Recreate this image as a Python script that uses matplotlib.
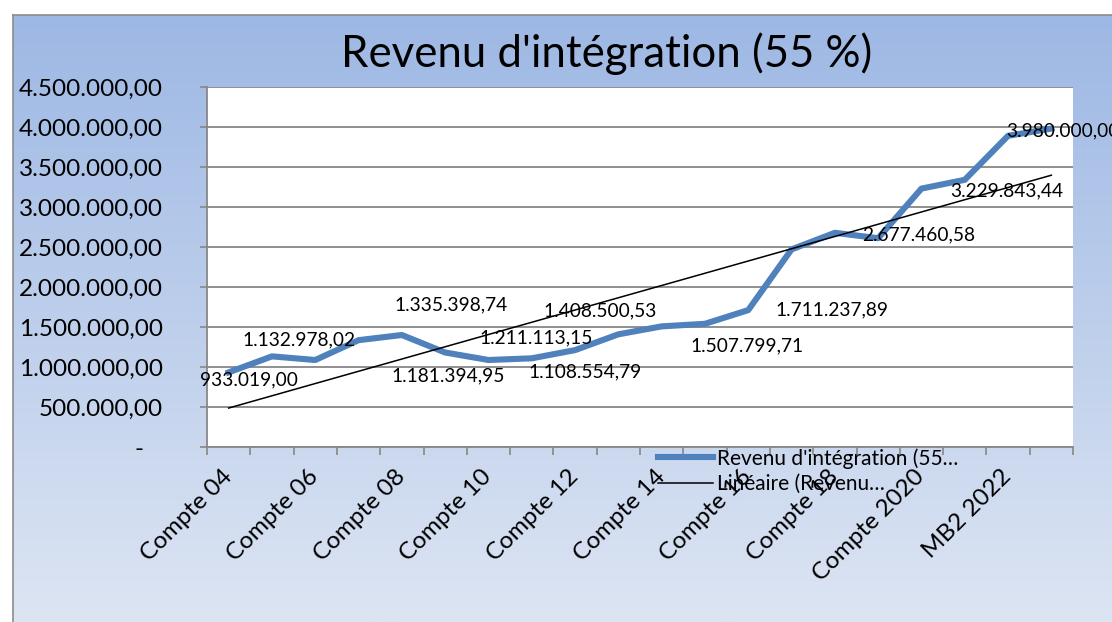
import numpy as np
import matplotlib
matplotlib.use("Agg")
import matplotlib.pyplot as plt
from matplotlib.colors import LinearSegmentedColormap

# ---------------- data ----------------
categories = ["Compte 04", "Compte 05", "Compte 06", "Compte 07", "Compte 08",
              "Compte 09", "Compte 10", "Compte 11", "Compte 12", "Compte 13",
              "Compte 14", "Compte 15", "Compte 16", "Compte 17", "Compte 18",
              "Compte 19", "Compte 2020", "Compte 2021", "MB2 2022", "MB2 2023"]
values = [933019.00, 1132978.02, 1087500, 1335398.74, 1400000,
          1181394.95, 1087500, 1108554.79, 1211113.15, 1408500.53,
          1507799.71, 1540000, 1711237.89, 2470000, 2677460.58,
          2610000, 3229843.44, 3340000, 3890000, 3980000.00]
labelled_points = [0, 1, 3, 5, 8, 7, 9, 10, 12, 14, 16, 19]
title = "Revenu d'intégration (55 %)"
legend_labels = ["Revenu d'intégration (55…", "Linéaire (Revenu…"]
y_ticks = [0, 500000, 1000000, 1500000, 2000000, 2500000, 3000000,
           3500000, 4000000, 4500000]

# label offsets in pixels (dx right, dy down) -- layout only
label_offsets = [(20, 8), (27, -16), (93, -35), (3, 23), (-39, -12), (53, 14),
                 (-18, -23), (85, 19), (84, 0), (84, 2), (85, 2), (12, 2)]

FONT = ["Lato", "DejaVu Sans"]
plt.rcParams['font.family'] = FONT

W, H = 1112, 622
fig = plt.figure(figsize=(W / 100, H / 100), dpi=100)
fig.patch.set_facecolor("white")


def fx(px):
    return px / W


def fy(py):
    return 1 - py / H


# background gradient of chart area
bg = fig.add_axes([fx(13), 0, 1 - fx(13), fy(15)])
cmap = LinearSegmentedColormap.from_list("g", ["#9db8e4", "#dde5f3"])
grad = np.linspace(0, 1, 256).reshape(-1, 1)
bg.imshow(grad, aspect="auto", cmap=cmap, extent=[0, 1, 0, 1])
bg.set_xticks([])
bg.set_yticks([])
for s in ["right", "bottom"]:
    bg.spines[s].set_visible(False)
for s in ["left", "top"]:
    bg.spines[s].set_color("#8c8c8c")
    bg.spines[s].set_linewidth(1.2)
bg.set_zorder(0)

# title
fig.text(fx(607), fy(67), title, ha="center", va="baseline",
         fontsize=31.5, color="black")

# main axes
ax = fig.add_axes([fx(207), fy(447), fx(1073 - 207), (447 - 87) / H])
ax.set_zorder(1)
ax.set_facecolor("white")

x = np.arange(len(categories))
line, = ax.plot(x, values, color="#4f81bd", lw=4.4, solid_joinstyle="round",
                zorder=3, label=legend_labels[0])

coef = np.polyfit(x, values, 1)
trend = np.polyval(coef, x)
tline, = ax.plot(x, trend, color="black", lw=1.1, zorder=4,
                 label=legend_labels[1])

ax.set_xlim(-0.5, len(categories) - 0.5)
ax.set_ylim(0, 4500000)
ax.set_yticks(y_ticks)


def fmt(v):
    if v == 0:
        return "-   "
    s = f"{v:,.2f}"
    return s.replace(",", "X").replace(".", ",").replace("X", ".")


ax.set_yticklabels([fmt(v) for v in y_ticks])
ax.yaxis.grid(True, color="#878787", lw=1.3)
ax.set_axisbelow(True)
ax.tick_params(axis="y", length=5.2, width=1.2, color="#878787", pad=26.5,
               labelsize=17.5)

# x ticks: marks at boundaries, labels at every other category
ax.set_xticks(np.arange(-0.5, len(categories), 1.0), minor=True)
ax.set_xticks(x[::2])
ax.set_xticklabels([categories[i] for i in x[::2]], rotation=45,
                   ha="right", va="center", rotation_mode="anchor")
ax.tick_params(axis="x", which="major", length=0, pad=19, labelsize=17.5)
ax.tick_params(axis="x", which="minor", length=6, width=1.2, color="#878787")

for s in ["top", "right"]:
    ax.spines[s].set_visible(False)
for s in ["left", "bottom"]:
    ax.spines[s].set_color("#878787")
    ax.spines[s].set_linewidth(1.3)

# data labels
for idx, (dx, dy) in zip(labelled_points, label_offsets):
    ax.annotate(fmt(values[idx]), xy=(idx, values[idx]), xytext=(dx, -dy),
                textcoords="offset pixels", ha="center", va="center",
                fontsize=13.8, color="black", zorder=6, annotation_clip=False,
                clip_on=False)

leg = ax.legend(handles=[line, tline], loc="upper left",
                bbox_to_anchor=(fx(658), fy(448)),
                bbox_transform=fig.transFigure, frameon=False,
                fontsize=15, handlelength=2.65, handletextpad=0.2,
                borderpad=0, borderaxespad=0, labelspacing=0.25)
leg.set_zorder(10)

fig.savefig("out.png", dpi=100)
